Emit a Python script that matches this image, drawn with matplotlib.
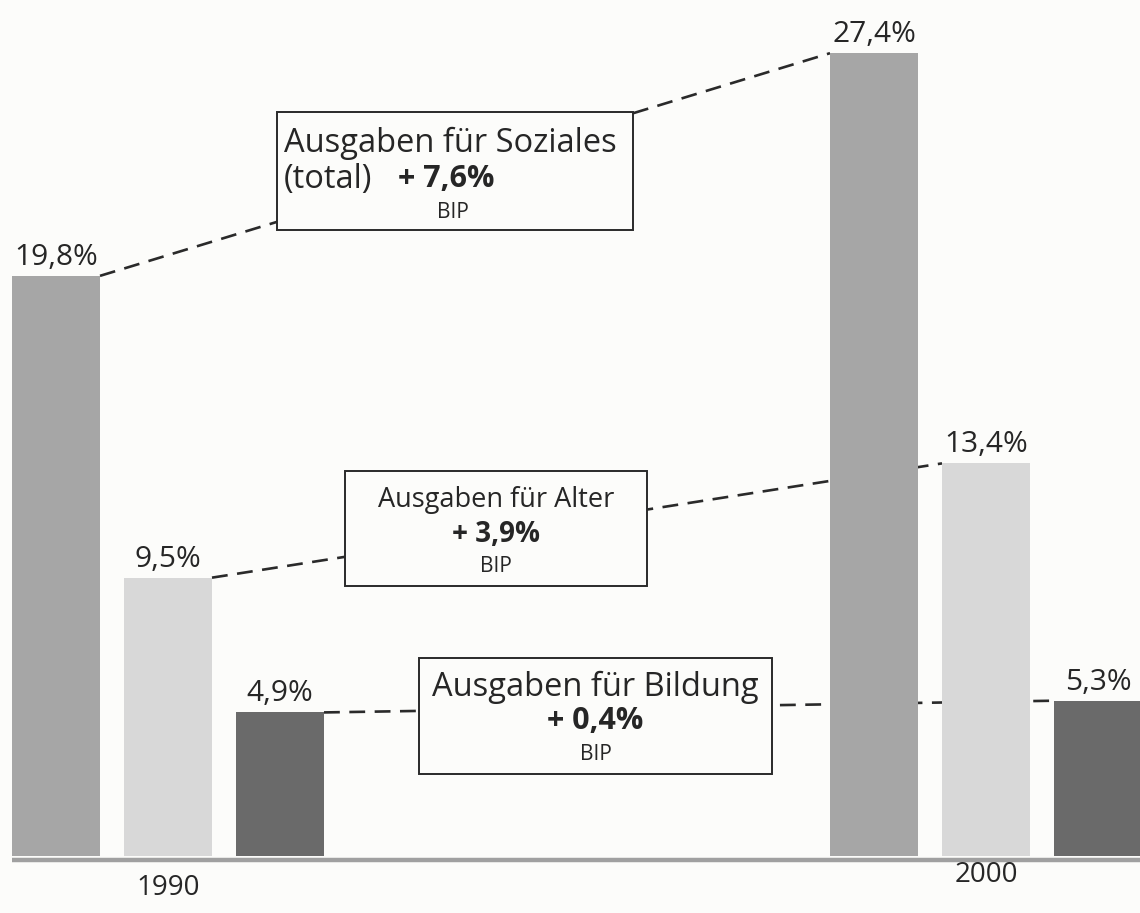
import matplotlib
matplotlib.use("Agg")
import matplotlib.pyplot as plt
from matplotlib.patches import Rectangle

# ---- data ----
years = ["1990", "2000"]
categories = ["Soziales", "Alter", "Bildung"]
values_1990 = [19.8, 9.5, 4.9]
values_2000 = [27.4, 13.4, 5.3]
box_titles = ["Ausgaben für Soziales", "Ausgaben für Alter", "Ausgaben für Bildung"]
box_changes = ["+ 7,6%", "+ 3,9%", "+ 0,4%"]
box_unit = "BIP"

# ---- style / layout ----
W, H = 1140, 913
bar_colors = ["#a6a6a6", "#d8d8d8", "#6a6a6a"]
text_color = "#262626"
bg = "#fcfcfa"
group_centers = [168, 986]
bar_step = 112
bar_width = 88
baseline_px = 856
px_per_pct = 29.3

plt.rcParams["font.family"] = ["Open Sans", "DejaVu Sans"]

fig = plt.figure(figsize=(W / 100, H / 100), dpi=100, facecolor=bg)
ax = fig.add_axes([0, 0, 1, 1])
ax.set_facecolor(bg)
ax.set_xlim(0, W)
ax.set_ylim(-(H - baseline_px) / px_per_pct, baseline_px / px_per_pct)
ax.axis("off")

def fmt(v):
    return f"{v:.1f}".replace(".", ",") + "%"

xs = {}
for gi, (yr, vals) in enumerate(zip(years, [values_1990, values_2000])):
    xpos = [group_centers[gi] + (i - 1) * bar_step for i in range(len(categories))]
    xs[yr] = xpos
    ax.bar(xpos, vals, width=bar_width, color=bar_colors, zorder=2)
    for x, v in zip(xpos, vals):
        ax.annotate(fmt(v), (x, v), xytext=(0, 8), textcoords="offset points",
                    ha="center", va="baseline", fontsize=21.5, color=text_color)

# baseline band
ax.plot([12, W], [-0.15, -0.15], color="#a0a0a0", lw=3.2, zorder=3,
        solid_capstyle="butt")

# year labels
year_dy = [-23, -14]
for gi, yr in enumerate(years):
    ax.annotate(yr, (group_centers[gi], 0), xytext=(0, year_dy[gi]),
                textcoords="offset points", ha="center", va="center",
                fontsize=20, color=text_color)

# dashed connectors bar top -> bar top
for i in range(len(categories)):
    x1 = xs["1990"][i] + bar_width / 2
    x2 = xs["2000"][i] - bar_width / 2
    ax.plot([x1, x2], [values_1990[i], values_2000[i]], color="#2a2a2a",
            lw=1.9, dashes=(6, 3.6), zorder=1)

# boxes (pixel coords from top-left)
boxes = [(277, 112, 633, 230), (345, 471, 647, 586), (419, 658, 772, 774)]
title_sizes = [23.5, 19.5, 23.5]
change_sizes = [22, 20, 22]

def fx(x):
    return x / W

def fy(y):
    return 1 - y / H

for i, (l, t, r, b) in enumerate(boxes):
    rect = Rectangle((fx(l), fy(b)), fx(r) - fx(l), fy(t) - fy(b),
                     transform=fig.transFigure, facecolor=bg,
                     edgecolor="#2a2a2a", lw=1.4, zorder=5, clip_on=False)
    ax.add_patch(rect)

# Soziales box text (left aligned)
l, t, r, b = boxes[0]
fig.text(fx(l + 7), fy(t + 31), box_titles[0], ha="left", va="center",
         fontsize=title_sizes[0], color=text_color, zorder=6)
fig.text(fx(l + 7), fy(t + 67), "(total)", ha="left", va="center",
         fontsize=title_sizes[0], color=text_color, zorder=6)
fig.text(fx(l + 121), fy(t + 67), box_changes[0], ha="left", va="center",
         fontsize=change_sizes[0], fontweight="bold", color=text_color, zorder=6)
fig.text(fx((l + r) / 2 - 2), fy(t + 101), box_unit, ha="center", va="center",
         fontsize=15, color=text_color, zorder=6)

for i in (1, 2):
    l, t, r, b = boxes[i]
    cx = (l + r) / 2
    fig.text(fx(cx), fy(t + 29), box_titles[i], ha="center", va="center",
             fontsize=title_sizes[i], color=text_color, zorder=6)
    fig.text(fx(cx), fy(t + 63), box_changes[i], ha="center", va="center",
             fontsize=change_sizes[i], fontweight="bold", color=text_color, zorder=6)
    fig.text(fx(cx), fy(t + 96), box_unit, ha="center", va="center",
             fontsize=15, color=text_color, zorder=6)

fig.savefig("out.png", dpi=100, facecolor=bg)
